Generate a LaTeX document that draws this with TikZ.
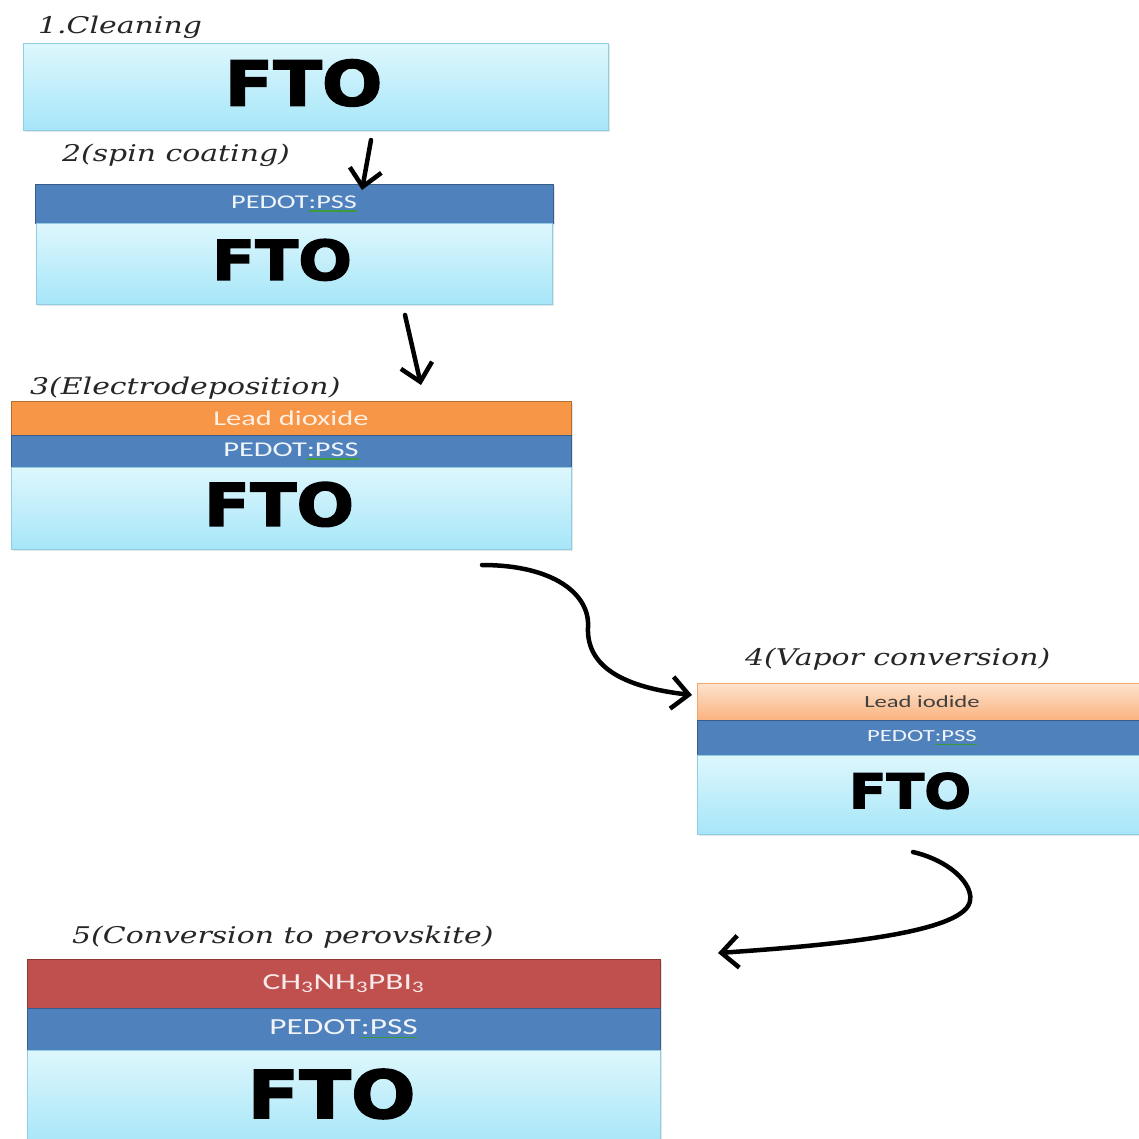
\documentclass[tikz,border=0pt]{standalone}
\usepackage{fontspec}
\usetikzlibrary{arrows.meta,positioning,shadows}
\newfontfamily\ftofont[FakeStretch=1.15,FakeBold=2.5]{DejaVu Sans}
\newfontfamily\layerfont[FakeStretch=1.45]{Carlito}
\newfontfamily\stepfont[FakeStretch=1.3]{DejaVu Serif}
\definecolor{ftotop}{HTML}{DEF7FD}
\definecolor{ftobot}{HTML}{A6E6F8}
\definecolor{ftoedge}{HTML}{8FCDE3}
\definecolor{pedotfill}{HTML}{4F81BD}
\definecolor{pedotedge}{HTML}{385D8A}
\definecolor{oxidefill}{HTML}{F79646}
\definecolor{oxideedge}{HTML}{B66D31}
\definecolor{iodtop}{HTML}{FDE4CF}
\definecolor{iodbot}{HTML}{FAB27E}
\definecolor{iodedge}{HTML}{F5A66A}
\definecolor{perovfill}{HTML}{C0504D}
\definecolor{perovedge}{HTML}{8C3836}
\definecolor{spellgreen}{HTML}{3D9A3D}
% green mark under a word, as in the source picture
\newcommand\spellmark[1]{\setbox0\hbox{#1}\rlap{\raisebox{-3.5pt}{\textcolor{spellgreen}{\rule{\wd0}{1.2pt}}}}\box0}
\tikzset{
  layer/.style={rectangle, inner sep=0pt, outer sep=0pt, line width=1pt,
    drop shadow={opacity=0.2, shadow xshift=2pt, shadow yshift=-2pt}},
  fto/.style={layer, draw=ftoedge, top color=ftotop, bottom color=ftobot,
    font=\ftofont\bfseries\fontsize{#1}{#1}\selectfont, text depth=8pt,
    execute at end node=\hspace*{24pt}},
  pedot/.style={layer, draw=pedotedge, fill=pedotfill, text=white!92!pedotfill,
    font=\layerfont\fontsize{#1}{#1}\selectfont},
  oxide/.style={layer, draw=oxideedge, fill=oxidefill, text=white!85!oxidefill,
    font=\layerfont\fontsize{#1}{#1}\selectfont},
  iodide/.style={layer, draw=iodedge, top color=iodtop, bottom color=iodbot, text=black!75,
    font=\layerfont\fontsize{#1}{#1}\selectfont},
  perov/.style={layer, draw=perovedge, fill=perovfill, text=white!88!perovfill,
    font=\layerfont\fontsize{#1}{#1}\selectfont},
  steplabel/.style={anchor=base west, inner sep=0pt, text=black!85,
    font=\stepfont\itshape\fontsize{#1}{#1}\selectfont},
  flow/.style={line width=4.5pt, line cap=round,
    -{Straight Barb[length=17pt,width=32pt,line width=4.5pt]}}
}
\begin{document}
\begin{tikzpicture}[x=1pt,y=-1pt]
\fill[white] (0,0) rectangle (1139,1138);
\useasboundingbox (0,0) rectangle (1139,1138);
% 1 cleaning
\node[fto=62, minimum width=585pt, minimum height=87pt, anchor=north west] (fto1) at (23,43) {FTO};
\node[steplabel=23] (step1) at (38,33) {1.Cleaning};
% 2 spin coating
\node[pedot=19.5, minimum width=518pt, minimum height=39pt, anchor=north west] (pedot2) at (35,184) {PEDOT\spellmark{:PSS}};
\node[fto=55, minimum width=516pt, minimum height=81pt, below=0pt of pedot2] (fto2) {FTO};
\node[steplabel=23] (step2) at (62,161) {2(spin coating)};
% 3 electrodeposition
\node[oxide=21, minimum width=560pt, minimum height=34pt, anchor=north west] (oxide3) at (11,401) {Lead dioxide};
\node[pedot=21, minimum width=560pt, minimum height=32pt, below=0pt of oxide3] (pedot3) {PEDOT\spellmark{:PSS}};
\node[fto=59, minimum width=560pt, minimum height=82pt, below=0pt of pedot3] (fto3) {FTO};
\node[steplabel=23] (step3) at (30,394) {3(Electrodeposition)};
% 4 vapor conversion
\node[iodide=17, minimum width=450pt, minimum height=37pt, anchor=north west] (iodide4) at (697,683) {Lead iodide};
\node[pedot=17, minimum width=450pt, minimum height=35pt, below=0pt of iodide4] (pedot4) {PEDOT\spellmark{:PSS}};
\node[fto=48, minimum width=450pt, minimum height=79pt, below=0pt of pedot4] (fto4) {FTO};
\node[steplabel=23] (step4) at (745,665) {4(Vapor conversion)};
% 5 conversion to perovskite
\node[perov=23, minimum width=633pt, minimum height=49pt, anchor=north west] (perov5) at (27,959) {CH\textsubscript{3}NH\textsubscript{3}PBI\textsubscript{3}};
\node[pedot=23, minimum width=633pt, minimum height=42pt, below=0pt of perov5] (pedot5) {PEDOT\spellmark{:PSS}};
\node[fto=66, minimum width=633pt, minimum height=95pt, below=0pt of pedot5] (fto5) {FTO};
\node[steplabel=23] (step5) at (72,943) {5(Conversion to perovskite)};
% arrows
\coordinate (a1s) at (371,140);
\coordinate (a1e) at (362,190);
\coordinate (a2s) at (405,315);
\coordinate (a2e) at (421,385);
\coordinate (a3s) at (482,565);
\coordinate (a3e) at (692,695);
\coordinate (a4s) at (913,852);
\coordinate (a4e) at (718,953);
\draw[flow] (a1s) -- (a1e);
\draw[flow] (a2s) -- (a2e);
\draw[flow] (a3s) .. controls (555,565) and (590,595) .. (588,627)
  .. controls (586,670) and (630,688) .. (a3e);
\draw[flow] (a4s) .. controls (955,862) and (978,890) .. (968,906)
  .. controls (950,935) and (820,946) .. (a4e);
\end{tikzpicture}
\end{document}
